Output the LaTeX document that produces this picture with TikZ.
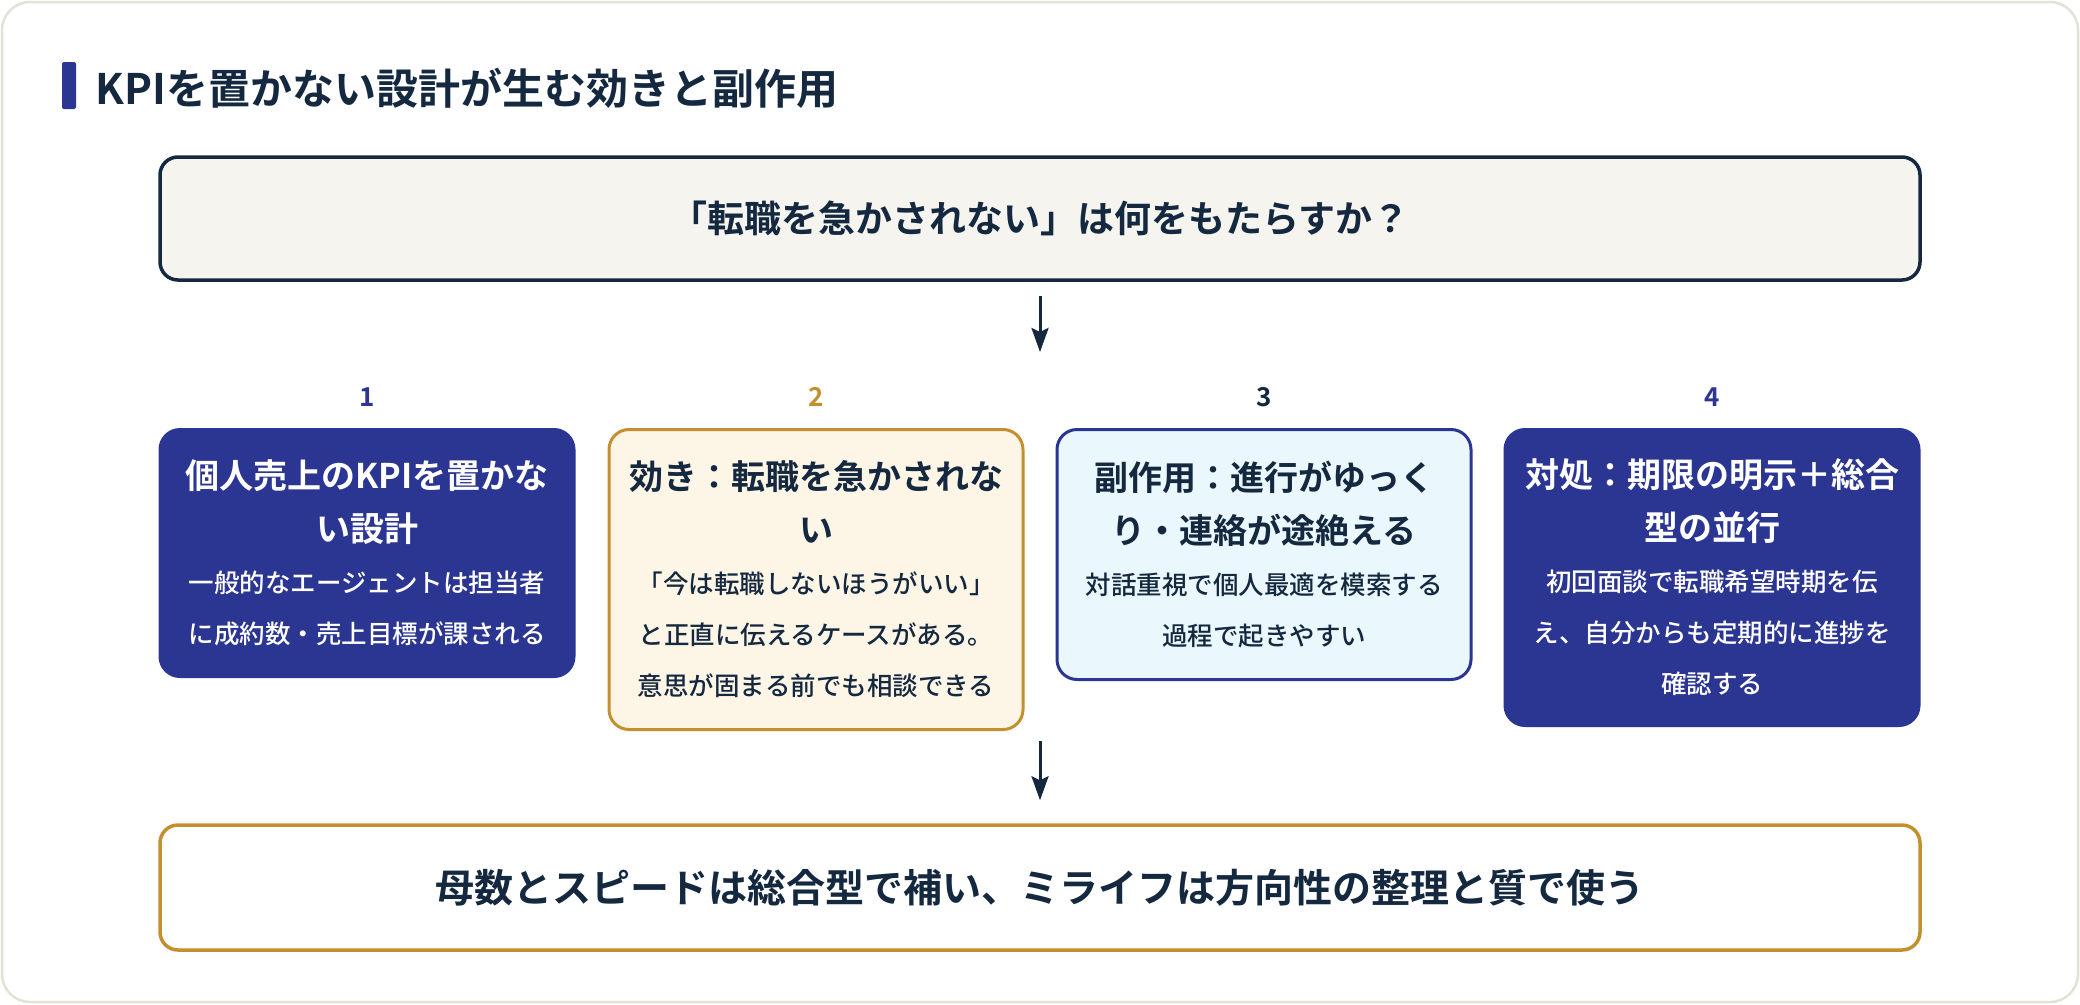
\documentclass[tikz,border=0pt]{standalone}
\usepackage{fontspec}
\setmainfont{Noto Sans CJK JP}[UprightFont=* Medium, BoldFont=* Bold]
\usetikzlibrary{arrows.meta}

\definecolor{inkdark}{HTML}{14283F}
\definecolor{kpiblue}{HTML}{2B3592}
\definecolor{gold}{HTML}{C4902F}
\definecolor{cream}{HTML}{FDF5E6}
\definecolor{icyblue}{HTML}{EAF7FC}
\definecolor{paper}{HTML}{F5F4EF}
\definecolor{frame}{HTML}{E4E2D6}

% Kartentext: Titel fett, darunter der Erlaeuterungstext
\newcommand\cardtitle[1]{{\fontsize{34}{53}\selectfont\bfseries #1\par}}
\newcommand\cardbody[1]{{\fontsize{25.5}{51}\selectfont #1\par}}

\begin{document}
\begin{tikzpicture}[x=1pt, y=-1pt,
    card/.style = {rectangle, rounded corners=20pt, line width=3pt, minimum width=414pt,
                   text width=384pt, inner xsep=15pt, align=center, anchor=north},
    num label/.style = {font=\fontsize{26}{26}\selectfont\bfseries},
    banner/.style = {rectangle, rounded corners=18pt, line width=3.5pt, minimum width=1760pt,
                     align=center, text=inkdark},
    flow arrow/.style = {draw=inkdark, line width=3pt, -{Stealth[length=24pt, width=17pt, inset=4pt]}}
]

\useasboundingbox (0,0) rectangle (2080,1004);
\fill[white] (0,0) rectangle (2080,1004);
\draw[frame, line width=2.5pt, rounded corners=28pt] (2,2) rectangle (2078,1002);

% --- Ueberschrift ---
\fill[kpiblue, rounded corners=2pt] (62,62) rectangle (76,109);
\node[anchor=west, text=inkdark, font=\fontsize{42}{42}\selectfont\bfseries] (heading) at (92,88) {KPIを置かない設計が生む効きと副作用};

% --- Frage oben ---
\node[banner, draw=inkdark, fill=paper, minimum height=123pt, font=\fontsize{37}{37}\selectfont\bfseries] (question) at (1040,218.5)
    {「転職を急かされない」は何をもたらすか？};

\coordinate (arrowtip1) at (1040,352);
\draw[flow arrow, shorten <=14pt] (question.south) -- (arrowtip1);

% --- Nummern ---
\node[num label, text=kpiblue] (n1) at (367,397) {1};
\node[num label, text=gold]    (n2) at (816,397) {2};
\node[num label, text=inkdark] (n3) at (1264,397) {3};
\node[num label, text=kpiblue] (n4) at (1712,397) {4};

% --- Karten ---
\node[card, fill=kpiblue, draw=kpiblue, text=white, minimum height=247pt] (c1) at (367,428) {
    \cardtitle{個人売上のKPIを置かな\\い設計}
    \cardbody{一般的なエージェントは担当者\\に成約数・売上目標が課される}};

\node[card, fill=cream, draw=gold, text=inkdark, minimum height=300pt] (c2) at (816,428) {
    \cardtitle{効き：転職を急かされな\\い}
    \cardbody{「今は転職しないほうがいい」\\と正直に伝えるケースがある。\\意思が固まる前でも相談できる}};

\node[card, fill=icyblue, draw=kpiblue, text=inkdark, minimum height=250pt] (c3) at (1264,428) {
    \cardtitle{副作用：進行がゆっく\\り・連絡が途絶える}
    \cardbody{対話重視で個人最適を模索する\\過程で起きやすい}};

\node[card, fill=kpiblue, draw=kpiblue, text=white, minimum height=296pt] (c4) at (1712,428) {
    \cardtitle{対処：期限の明示＋総合\\型の並行}
    \cardbody{初回面談で転職希望時期を伝\\え、自分からも定期的に進捗を\\確認する}};

% --- Fazit unten ---
\node[banner, draw=gold, fill=white, minimum height=125pt, font=\fontsize{39}{39}\selectfont\bfseries] (summary) at (1040,887.5)
    {母数とスピードは総合型で補い、ミライフは方向性の整理と質で使う};

\coordinate (arrowtail2) at (1040,741);
\draw[flow arrow, shorten >=23pt] (arrowtail2) -- (summary.north);

\end{tikzpicture}
\end{document}
